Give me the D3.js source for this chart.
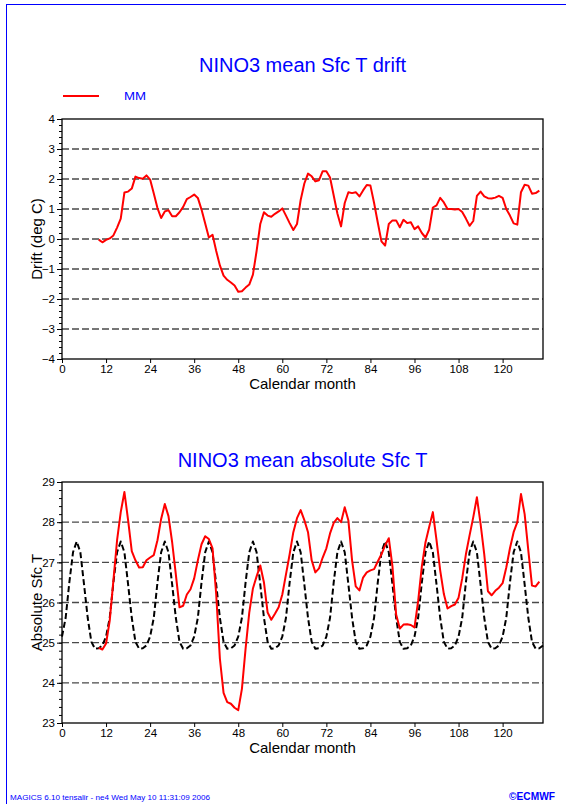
<!DOCTYPE html>
<html>
<head>
<meta charset="utf-8">
<script src="https://cdn.jsdelivr.net/npm/d3@7"></script>
<style>
  html, body { margin: 0; padding: 0; background: #fff; }
  svg { display: block; font-family: 'Liberation Sans', Arial, Helvetica, sans-serif; }
</style>
</head>
<body>
<div id="dataviz_nino3"></div>
<script>

// ━━━━━━━━━━━━━━━━━━━━━━━━━━━━━━━━━━━━━━━━━━━━━━━━━━━━━━━━━━━━━━━━━━━━━━━━━━━━━━━━━━━━━━
// Datos ///////////////////////////////////////////////////////////
// ━━━━━━━━━━━━━━━━━━━━━━━━━━━━━━━━━━━━━━━━━━━━━━━━━━━━━━━━━━━━━━━━━━━━━━━━━━━━━━━━━━━━━━

// MM: meses 10..130
const mmMonths = d3.range(10, 131);

const driftMM = [
  -0.02, -0.11, -0.03, 0.02, 0.12, 0.38, 0.68, 1.55, 1.58, 1.68, 2.08, 2.03,
   2.01, 2.12, 1.98, 1.52, 1.03, 0.70, 0.92, 0.96, 0.76, 0.76, 0.89, 1.07,
   1.33, 1.40, 1.48, 1.37, 0.98, 0.52, 0.05, 0.14, -0.40, -0.88, -1.22, -1.36,
  -1.45, -1.55, -1.76, -1.74, -1.62, -1.52, -1.19, -0.40, 0.50, 0.89, 0.78, 0.74,
   0.84, 0.92, 1.02, 0.78, 0.53, 0.30, 0.50, 1.30, 1.85, 2.18, 2.09, 1.92,
   1.96, 2.26, 2.26, 2.05, 1.45, 0.85, 0.42, 1.20, 1.56, 1.53, 1.56, 1.42,
   1.62, 1.80, 1.78, 1.20, 0.55, -0.08, -0.22, 0.50, 0.62, 0.62, 0.39, 0.64,
   0.53, 0.56, 0.33, 0.42, 0.20, 0.05, 0.31, 1.05, 1.12, 1.37, 1.22, 1.00,
   1.00, 0.98, 1.00, 0.90, 0.68, 0.44, 0.60, 1.44, 1.58, 1.42, 1.36, 1.35,
   1.38, 1.44, 1.37, 1.00, 0.78, 0.52, 0.48, 1.56, 1.81, 1.78, 1.51, 1.53,
   1.61
];

const absoluteMM = [
  24.87, 24.83, 24.98, 25.55, 26.55, 27.55, 28.25, 28.75, 28.05, 27.28, 27.05, 26.87,
  26.88, 27.05, 27.12, 27.18, 27.55, 28.08, 28.45, 28.15, 27.50, 26.70, 25.88, 25.92,
  26.20, 26.33, 26.60, 27.05, 27.45, 27.65, 27.58, 27.35, 26.20, 24.60, 23.75, 23.52,
  23.48, 23.38, 23.32, 23.85, 24.85, 25.75, 26.35, 26.65, 26.92, 26.50, 25.75, 25.57,
  25.72, 25.88, 26.20, 26.70, 27.20, 27.75, 28.10, 28.30, 28.05, 27.75, 27.05, 26.75,
  26.85, 27.12, 27.35, 27.72, 27.98, 28.10, 28.00, 28.37, 28.04, 27.05, 26.40, 26.30,
  26.62, 26.75, 26.80, 26.83, 27.02, 27.20, 27.42, 27.60, 26.90, 25.70, 25.35, 25.45,
  25.46, 25.44, 25.38, 26.04, 26.90, 27.50, 27.88, 28.25, 27.55, 26.80, 26.21, 25.85,
  25.91, 25.95, 26.12, 26.60, 27.20, 27.67, 28.12, 28.62, 27.96, 27.20, 26.28, 26.18,
  26.29, 26.37, 26.48, 26.87, 27.35, 27.75, 28.00, 28.70, 28.20, 27.30, 26.42, 26.40,
  26.52
];

// Climatología (línea negra punteada): meses 0..131
const climMonths = d3.range(0, 132);

const climatology = [
  25.15, 25.62, 26.50, 27.25, 27.52, 27.25, 26.45, 25.62, 25.02, 24.85, 24.86, 24.93,
  25.15, 25.62, 26.50, 27.25, 27.52, 27.25, 26.45, 25.62, 25.02, 24.85, 24.86, 24.93,
  25.15, 25.62, 26.50, 27.25, 27.52, 27.25, 26.45, 25.62, 25.02, 24.85, 24.86, 24.93,
  25.15, 25.62, 26.50, 27.25, 27.52, 27.25, 26.45, 25.62, 25.02, 24.85, 24.86, 24.93,
  25.15, 25.62, 26.50, 27.25, 27.52, 27.25, 26.45, 25.62, 25.02, 24.85, 24.86, 24.93,
  25.15, 25.62, 26.50, 27.25, 27.52, 27.25, 26.45, 25.62, 25.02, 24.85, 24.86, 24.93,
  25.15, 25.62, 26.50, 27.25, 27.52, 27.25, 26.45, 25.62, 25.02, 24.85, 24.86, 24.93,
  25.15, 25.62, 26.50, 27.25, 27.52, 27.25, 26.45, 25.62, 25.02, 24.85, 24.86, 24.93,
  25.15, 25.62, 26.50, 27.25, 27.52, 27.25, 26.45, 25.62, 25.02, 24.85, 24.86, 24.93,
  25.15, 25.62, 26.50, 27.25, 27.52, 27.25, 26.45, 25.62, 25.02, 24.85, 24.86, 24.93,
  25.15, 25.62, 26.50, 27.25, 27.52, 27.25, 26.45, 25.62, 25.02, 24.85, 24.86, 24.93
];

const xTicks     = [0, 12, 24, 36, 48, 60, 72, 84, 96, 108, 120];
const driftTicks = [-4, -3, -2, -1, 0, 1, 2, 3, 4];
const absTicks   = [23, 24, 25, 26, 27, 28, 29];

const legendLabels = ['MM'];
const footerText = 'MAGICS 6.10 tensalir - ne4 Wed May 10 11:31:09 2006';

// ━━━━━━━━━━━━━━━━━━━━━━━━━━━━━━━━━━━━━━━━━━━━━━━━━━━━━━━━━━━━━━━━━━━━━━━━━━━━━━━━━━━━━━
// SVG setup ////////////////////////////////////////////////////////////////////////////
// ━━━━━━━━━━━━━━━━━━━━━━━━━━━━━━━━━━━━━━━━━━━━━━━━━━━━━━━━━━━━━━━━━━━━━━━━━━━━━━━━━━━━━━

const width = 566, height = 804;
const BLUE = '#0000ff', RED = '#ff0000';

const svg = d3.select('#dataviz_nino3').append('svg')
  .attr('xmlns', 'http://www.w3.org/2000/svg')
  .attr('viewBox', [0, 0, width, height])
  .attr('width', width)
  .attr('height', height);

const frame  = svg.append('g').attr('id', 'frame');
const legend = svg.append('g').attr('id', 'legend');
const footer = svg.append('g').attr('id', 'footer');

frame.append('rect')
  .attr('x', 6.5).attr('y', 4.5)
  .attr('width', 700).attr('height', 900)
  .attr('fill', 'none')
  .attr('stroke', BLUE)
  .attr('stroke-width', 1);

const x = d3.scaleLinear().domain([0, 131]).range([62, 543]);

// ━━━━━━━━━━━━━━━━━━━━━━━━━━━━━━━━━━━━━━━━━━━━━━━━━━━━━━━━━━━━━━━━━━━━━━━━━━━━━━━━━━━━━━
// Un panel = caja + grilla + ejes + series /////////////////////////////////////////////
// ━━━━━━━━━━━━━━━━━━━━━━━━━━━━━━━━━━━━━━━━━━━━━━━━━━━━━━━━━━━━━━━━━━━━━━━━━━━━━━━━━━━━━━

function renderPanel(cfg) {
  const g = svg.append('g').attr('id', cfg.id);
  const y = d3.scaleLinear().domain(cfg.domain).range([cfg.bottom, cfg.top]);

  // grilla punteada
  g.append('g').attr('class', 'grid')
    .selectAll('line')
    .data(cfg.ticks.slice(1, -1))
    .join('line')
    .attr('x1', x.range()[0]).attr('x2', x.range()[1])
    .attr('y1', d => y(d)).attr('y2', d => y(d))
    .attr('stroke', '#4a4a4a')
    .attr('stroke-width', 1.3)
    .attr('stroke-dasharray', '7,3');

  // ticks menores (cada 0.2)
  const minor = d3.range(cfg.domain[0], cfg.domain[1] + 0.001, 0.2);
  g.append('g')
    .attr('transform', `translate(${x.range()[0]},0)`)
    .call(d3.axisLeft(y).tickValues(minor).tickSize(3).tickFormat(''))
    .call(a => a.select('.domain').remove());

  // eje Y
  g.append('g')
    .attr('transform', `translate(${x.range()[0]},0)`)
    .call(d3.axisLeft(y).tickValues(cfg.ticks).tickSize(5).tickPadding(2).tickFormat(d3.format('d')))
    .call(a => a.select('.domain').remove())
    .call(a => a.selectAll('text').attr('font-size', 11.5).attr('fill', '#000').attr('font-family', null));

  // eje X
  g.append('g')
    .attr('transform', `translate(0,${cfg.bottom})`)
    .call(d3.axisBottom(x).tickValues(xTicks).tickSize(4).tickPadding(2))
    .call(a => a.select('.domain').remove())
    .call(a => a.selectAll('text').attr('font-size', 11.5).attr('fill', '#000').attr('font-family', null));

  // caja
  g.append('rect')
    .attr('x', x.range()[0]).attr('y', cfg.top)
    .attr('width', x.range()[1] - x.range()[0])
    .attr('height', cfg.bottom - cfg.top)
    .attr('fill', 'none')
    .attr('stroke', '#000')
    .attr('stroke-width', 1.3);

  // títulos
  g.append('text')
    .attr('x', (x.range()[0] + x.range()[1]) / 2)
    .attr('y', cfg.titleY)
    .attr('text-anchor', 'middle')
    .attr('font-size', 20)
    .attr('fill', BLUE)
    .text(cfg.title);

  g.append('text')
    .attr('x', (x.range()[0] + x.range()[1]) / 2)
    .attr('y', cfg.bottom + 29.5)
    .attr('text-anchor', 'middle')
    .attr('font-size', 15)
    .attr('fill', '#000')
    .text('Calendar month');

  g.append('text')
    .attr('transform', `translate(42,${(cfg.top + cfg.bottom) / 2}) rotate(-90)`)
    .attr('text-anchor', 'middle')
    .attr('font-size', 15)
    .attr('fill', '#000')
    .text(cfg.ylabel);

  // series
  const series = g.append('g').attr('class', 'series');
  cfg.series.forEach(s => {
    const line = d3.line().x((d, i) => x(s.months[i])).y(d => y(d));
    series.append('path')
      .datum(s.values)
      .attr('d', line)
      .attr('fill', 'none')
      .attr('stroke', s.color)
      .attr('stroke-width', 2)
      .attr('stroke-linejoin', 'round')
      .attr('stroke-dasharray', s.dash || null);
  });

  return y;
}

renderPanel({
  id: 'drift',
  top: 119, bottom: 359, titleY: 72,
  domain: [-4, 4],
  ticks: driftTicks,
  title: 'NINO3 mean Sfc T drift',
  ylabel: 'Drift (deg C)',
  series: [
    { months: mmMonths, values: driftMM, color: RED }
  ]
});

renderPanel({
  id: 'absolute',
  top: 482, bottom: 723, titleY: 467,
  domain: [23, 29],
  ticks: absTicks,
  title: 'NINO3 mean absolute Sfc T',
  ylabel: 'Absolute Sfc T',
  series: [
    { months: climMonths, values: climatology, color: '#000', dash: '6,3' },
    { months: mmMonths, values: absoluteMM, color: RED }
  ]
});

// ━━━━━━━━━━━━━━━━━━━━━━━━━━━━━━━━━━━━━━━━━━━━━━━━━━━━━━━━━━━━━━━━━━━━━━━━━━━━━━━━━━━━━━
// Leyenda y pie ////////////////////////////////////////////////////////////////////////
// ━━━━━━━━━━━━━━━━━━━━━━━━━━━━━━━━━━━━━━━━━━━━━━━━━━━━━━━━━━━━━━━━━━━━━━━━━━━━━━━━━━━━━━

legend.selectAll('line')
  .data(legendLabels)
  .join('line')
  .attr('x1', 63).attr('x2', 99)
  .attr('y1', 96).attr('y2', 96)
  .attr('stroke', RED)
  .attr('stroke-width', 2);

legend.selectAll('text')
  .data(legendLabels)
  .join('text')
  .attr('x', 124).attr('y', 100)
  .attr('font-size', 10)
  .attr('textLength', 22)
  .attr('lengthAdjust', 'spacingAndGlyphs')
  .attr('fill', BLUE)
  .text(d => d);

footer.append('text')
  .attr('x', 10).attr('y', 800)
  .attr('font-size', 8)
  .attr('textLength', 200)
  .attr('lengthAdjust', 'spacingAndGlyphs')
  .attr('fill', BLUE)
  .text(footerText);

footer.append('text')
  .attr('x', 509).attr('y', 800)
  .attr('font-size', 10)
  .attr('font-weight', 'bold')
  .attr('textLength', 46)
  .attr('lengthAdjust', 'spacingAndGlyphs')
  .attr('fill', BLUE)
  .text('©ECMWF');

</script>
</body>
</html>
